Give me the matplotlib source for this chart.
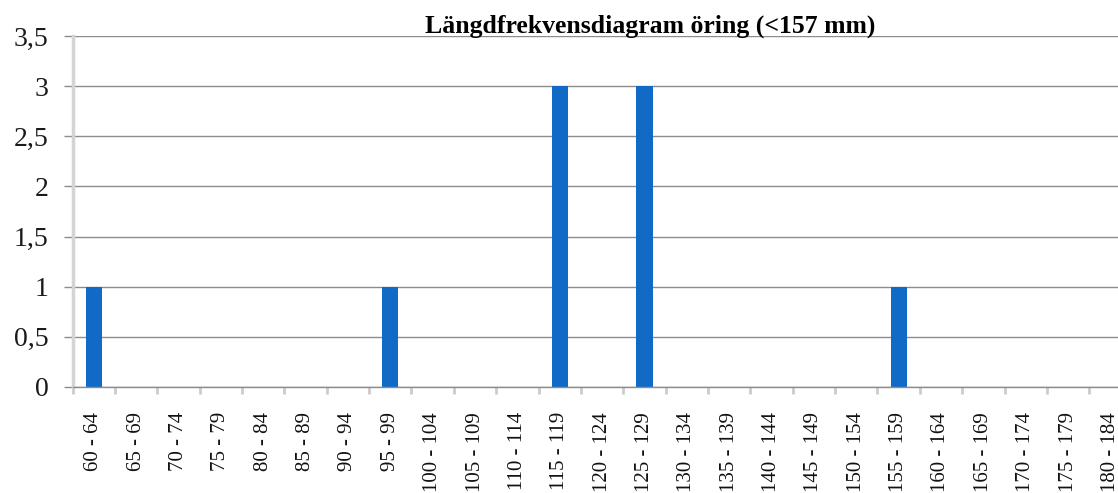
import numpy as np
import matplotlib.pyplot as plt
from matplotlib.ticker import FixedLocator, MultipleLocator

# length classes (mm) and number of fish per class
lo = np.arange(60, 185, 5)
klasser = ['%d - %d' % (a, a + 4) for a in lo]
antal = [1, 0, 0, 0, 0, 0, 0, 1, 0, 0, 0, 3, 0, 3, 0, 0, 0, 0, 0, 1, 0, 0, 0, 0, 0]

plt.rcParams['font.family'] = 'Liberation Serif'

fig = plt.figure(figsize=(11.18, 4.93), dpi=100)
# chart is cut off on the right in the original, so the axes runs past the edge
ax = fig.add_axes([72.6/1118, 106/493, 1059/1118, 351/493])

x = np.arange(len(klasser))
ax.bar(x, antal, width=0.38, color='#116BC6', zorder=3)

ax.set_xlim(-0.5, len(klasser) - 0.5)
ax.set_ylim(0, 3.5)

ax.yaxis.set_major_locator(MultipleLocator(0.5))
ax.set_yticklabels([('%g' % v).replace('.', ',') for v in ax.get_yticks()])
ax.grid(axis='y', color='#8c8c8c', linewidth=1.0, zorder=0)
ax.tick_params(axis='y', length=6.5, width=1.0, color='#8c8c8c',
               pad=11, labelsize=20, labelcolor='#1a1a1a')

ax.set_xticks(x)
ax.set_xticklabels(klasser, rotation=90, fontsize=15, color='#111111')
ax.xaxis.set_minor_locator(FixedLocator(np.arange(len(klasser) + 1) - 0.5))
ax.tick_params(axis='x', which='major', length=0, pad=18)
ax.tick_params(axis='x', which='minor', length=5, width=2, color='#cccccc')

for s in ['top', 'right']:
    ax.spines[s].set_visible(False)
ax.spines['left'].set_color('#d4d4d4')
ax.spines['left'].set_linewidth(2.5)
ax.spines['bottom'].set_color('#8c8c8c')
ax.spines['bottom'].set_linewidth(1.0)
ax.spines['bottom'].set_zorder(4)

fig.text(650/1118, 1 - 26/493, 'Längdfrekvensdiagram öring (<157 mm)',
         ha='center', va='center', fontsize=18.5, fontweight='bold')

fig.savefig('out.png', dpi=100)
